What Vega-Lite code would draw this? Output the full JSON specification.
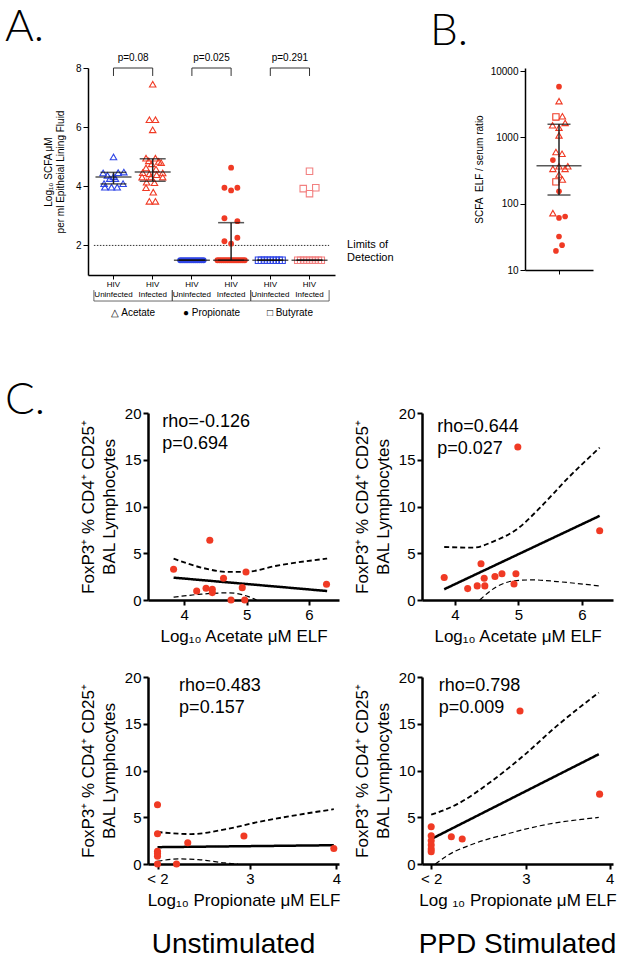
{
"$schema": "https://vega.github.io/schema/vega-lite/v6.json",
"padding": {"left": 5, "top": 6, "right": 5, "bottom": 5},
"background": "white",
"config": {
 "view": {"stroke": null},
 "font": "Liberation Sans",
 "axis": {"domainColor":"black","tickColor":"black","labelColor":"black","titleColor":"black","grid":false,"labelFont":"Liberation Sans","titleFont":"Liberation Sans","titleFontWeight":"normal","labelFlush":false,"labelOverlap":false},
 "title": {"color":"black"},
 "text": {"font":"Liberation Sans","color":"black"}
},
"datasets": {
 "aPoints": [
  {"g":"A_U","s":"Acetate","v":4.99,"j":0},
  {"g":"A_U","s":"Acetate","v":4.45,"j":-0.53},
  {"g":"A_U","s":"Acetate","v":4.46,"j":0.24},
  {"g":"A_U","s":"Acetate","v":4.48,"j":0.53},
  {"g":"A_U","s":"Acetate","v":4.37,"j":-0.31},
  {"g":"A_U","s":"Acetate","v":4.33,"j":0},
  {"g":"A_U","s":"Acetate","v":4.26,"j":-0.19},
  {"g":"A_U","s":"Acetate","v":4.26,"j":0.1},
  {"g":"A_U","s":"Acetate","v":4.09,"j":-0.48},
  {"g":"A_U","s":"Acetate","v":4.09,"j":0.49},
  {"g":"A_U","s":"Acetate","v":3.97,"j":-0.44},
  {"g":"A_U","s":"Acetate","v":3.97,"j":-0.1},
  {"g":"A_U","s":"Acetate","v":3.97,"j":0.19},
  {"g":"A_I","s":"Acetate","v":7.45,"j":0},
  {"g":"A_I","s":"Acetate","v":6.25,"j":-0.17},
  {"g":"A_I","s":"Acetate","v":6.25,"j":0.14},
  {"g":"A_I","s":"Acetate","v":5.91,"j":0},
  {"g":"A_I","s":"Acetate","v":4.95,"j":-0.34},
  {"g":"A_I","s":"Acetate","v":4.95,"j":0.14},
  {"g":"A_I","s":"Acetate","v":4.86,"j":-0.2},
  {"g":"A_I","s":"Acetate","v":4.84,"j":0.31},
  {"g":"A_I","s":"Acetate","v":4.76,"j":-0.05},
  {"g":"A_I","s":"Acetate","v":4.8,"j":0.43},
  {"g":"A_I","s":"Acetate","v":4.62,"j":-0.34},
  {"g":"A_I","s":"Acetate","v":4.58,"j":0.17},
  {"g":"A_I","s":"Acetate","v":4.46,"j":-0.51},
  {"g":"A_I","s":"Acetate","v":4.42,"j":-0.17},
  {"g":"A_I","s":"Acetate","v":4.39,"j":0.2},
  {"g":"A_I","s":"Acetate","v":4.45,"j":0.51},
  {"g":"A_I","s":"Acetate","v":4.31,"j":-0.54},
  {"g":"A_I","s":"Acetate","v":4.31,"j":-0.09},
  {"g":"A_I","s":"Acetate","v":4.31,"j":0.51},
  {"g":"A_I","s":"Acetate","v":4.14,"j":-0.31},
  {"g":"A_I","s":"Acetate","v":4.12,"j":0.09},
  {"g":"A_I","s":"Acetate","v":3.95,"j":-0.34},
  {"g":"A_I","s":"Acetate","v":3.8,"j":0.03},
  {"g":"A_I","s":"Acetate","v":3.49,"j":-0.17},
  {"g":"A_I","s":"Acetate","v":3.49,"j":0.14},
  {"g":"P_U","s":"Propionate","v":1.5,"j":-0.6},
  {"g":"P_U","s":"Propionate","v":1.5,"j":-0.5},
  {"g":"P_U","s":"Propionate","v":1.5,"j":-0.4},
  {"g":"P_U","s":"Propionate","v":1.5,"j":-0.3},
  {"g":"P_U","s":"Propionate","v":1.5,"j":-0.2},
  {"g":"P_U","s":"Propionate","v":1.5,"j":-0.1},
  {"g":"P_U","s":"Propionate","v":1.5,"j":0},
  {"g":"P_U","s":"Propionate","v":1.5,"j":0.1},
  {"g":"P_U","s":"Propionate","v":1.5,"j":0.2},
  {"g":"P_U","s":"Propionate","v":1.5,"j":0.3},
  {"g":"P_U","s":"Propionate","v":1.5,"j":0.4},
  {"g":"P_U","s":"Propionate","v":1.5,"j":0.5},
  {"g":"P_U","s":"Propionate","v":1.5,"j":0.6},
  {"g":"P_I","s":"Propionate","v":4.63,"j":0},
  {"g":"P_I","s":"Propionate","v":3.95,"j":-0.34},
  {"g":"P_I","s":"Propionate","v":3.86,"j":0},
  {"g":"P_I","s":"Propionate","v":3.95,"j":0.32},
  {"g":"P_I","s":"Propionate","v":2.92,"j":-0.34},
  {"g":"P_I","s":"Propionate","v":2.82,"j":0.32},
  {"g":"P_I","s":"Propionate","v":2.26,"j":0.32},
  {"g":"P_I","s":"Propionate","v":2.14,"j":-0.34},
  {"g":"P_I","s":"Propionate","v":2.06,"j":0},
  {"g":"P_I","s":"Propionate","v":1.5,"j":-0.7},
  {"g":"P_I","s":"Propionate","v":1.5,"j":-0.6},
  {"g":"P_I","s":"Propionate","v":1.5,"j":-0.5},
  {"g":"P_I","s":"Propionate","v":1.5,"j":-0.4},
  {"g":"P_I","s":"Propionate","v":1.5,"j":-0.3},
  {"g":"P_I","s":"Propionate","v":1.5,"j":-0.2},
  {"g":"P_I","s":"Propionate","v":1.5,"j":-0.1},
  {"g":"P_I","s":"Propionate","v":1.5,"j":0},
  {"g":"P_I","s":"Propionate","v":1.5,"j":0.1},
  {"g":"P_I","s":"Propionate","v":1.5,"j":0.2},
  {"g":"P_I","s":"Propionate","v":1.5,"j":0.3},
  {"g":"P_I","s":"Propionate","v":1.5,"j":0.4},
  {"g":"P_I","s":"Propionate","v":1.5,"j":0.5},
  {"g":"P_I","s":"Propionate","v":1.5,"j":0.6},
  {"g":"P_I","s":"Propionate","v":1.5,"j":0.7},
  {"g":"B_U","s":"Butyrate","v":1.5,"j":-0.6},
  {"g":"B_U","s":"Butyrate","v":1.5,"j":-0.45},
  {"g":"B_U","s":"Butyrate","v":1.5,"j":-0.3},
  {"g":"B_U","s":"Butyrate","v":1.5,"j":-0.15},
  {"g":"B_U","s":"Butyrate","v":1.5,"j":0},
  {"g":"B_U","s":"Butyrate","v":1.5,"j":0.15},
  {"g":"B_U","s":"Butyrate","v":1.5,"j":0.3},
  {"g":"B_U","s":"Butyrate","v":1.5,"j":0.45},
  {"g":"B_U","s":"Butyrate","v":1.5,"j":0.6},
  {"g":"B_I","s":"Butyrate","v":4.51,"j":0},
  {"g":"B_I","s":"Butyrate","v":3.92,"j":-0.32},
  {"g":"B_I","s":"Butyrate","v":3.95,"j":0.32},
  {"g":"B_I","s":"Butyrate","v":3.75,"j":0},
  {"g":"B_I","s":"Butyrate","v":1.5,"j":-0.6},
  {"g":"B_I","s":"Butyrate","v":1.5,"j":-0.45},
  {"g":"B_I","s":"Butyrate","v":1.5,"j":-0.3},
  {"g":"B_I","s":"Butyrate","v":1.5,"j":-0.15},
  {"g":"B_I","s":"Butyrate","v":1.5,"j":0},
  {"g":"B_I","s":"Butyrate","v":1.5,"j":0.15},
  {"g":"B_I","s":"Butyrate","v":1.5,"j":0.3},
  {"g":"B_I","s":"Butyrate","v":1.5,"j":0.45},
  {"g":"B_I","s":"Butyrate","v":1.5,"j":0.6}
 ],
 "aSummary": [
  {"g":"A_U","med":4.31,"q1":4.08,"q3":4.47},
  {"g":"A_I","med":4.48,"q1":4.17,"q3":4.93},
  {"g":"P_U","med":1.5,"q1":1.5,"q3":1.5},
  {"g":"P_I","med":1.5,"q1":1.5,"q3":2.77},
  {"g":"B_U","med":1.5,"q1":1.5,"q3":1.5},
  {"g":"B_I","med":1.5,"q1":1.5,"q3":1.5}
 ],
 "aPairs": [
  {"u":"A_U","i":"A_I","p":"p=0.08","lab":"△ Acetate"},
  {"u":"P_U","i":"P_I","p":"p=0.025","lab":"● Propionate"},
  {"u":"B_U","i":"B_I","p":"p=0.291","lab":"□ Butyrate"}
 ],
 "bPoints": [
  {"s":"Propionate","v":5800,"j":0},
  {"s":"Acetate","v":3510,"j":0},
  {"s":"Butyrate","v":2030,"j":-0.09},
  {"s":"Acetate","v":2080,"j":0.1},
  {"s":"Acetate","v":1520,"j":-0.19},
  {"s":"Acetate","v":1650,"j":0.18},
  {"s":"Acetate","v":1400,"j":0},
  {"s":"Acetate","v":1070,"j":0},
  {"s":"Acetate","v":600,"j":-0.09},
  {"s":"Acetate","v":566,"j":0.09},
  {"s":"Propionate","v":454,"j":-0.18},
  {"s":"Acetate","v":335,"j":-0.18},
  {"s":"Acetate","v":366,"j":0},
  {"s":"Acetate","v":335,"j":0.18},
  {"s":"Acetate","v":366,"j":0.26},
  {"s":"Acetate","v":275,"j":0},
  {"s":"Acetate","v":231,"j":0.1},
  {"s":"Butyrate","v":213,"j":-0.09},
  {"s":"Propionate","v":154,"j":0},
  {"s":"Acetate","v":72,"j":-0.18},
  {"s":"Propionate","v":61,"j":0},
  {"s":"Propionate","v":64,"j":0.18},
  {"s":"Propionate","v":32,"j":0},
  {"s":"Propionate","v":23.7,"j":0.09},
  {"s":"Propionate","v":19.4,"j":-0.09}
 ],
 "bSummary": [{"med":373,"q1":135,"q3":1574}],
 "cPoints": [
  {"p":"C1","x":3.83,"y":3.29},{"p":"C1","x":4.2,"y":0.96},{"p":"C1","x":4.35,"y":1.25},{"p":"C1","x":4.41,"y":6.39},
  {"p":"C1","x":4.45,"y":1.14},{"p":"C1","x":4.45,"y":0.79},{"p":"C1","x":4.63,"y":2.32},{"p":"C1","x":4.75,"y":0},
  {"p":"C1","x":4.93,"y":1.32},{"p":"C1","x":4.97,"y":0},{"p":"C1","x":4.99,"y":3.0},{"p":"C1","x":6.28,"y":1.68},
  {"p":"C2","x":3.83,"y":2.41},{"p":"C2","x":4.2,"y":1.22},{"p":"C2","x":4.35,"y":1.51},{"p":"C2","x":4.41,"y":3.88},
  {"p":"C2","x":4.46,"y":2.33},{"p":"C2","x":4.47,"y":1.51},{"p":"C2","x":4.63,"y":2.51},{"p":"C2","x":4.74,"y":2.8},
  {"p":"C2","x":4.93,"y":1.72},{"p":"C2","x":4.96,"y":2.8},{"p":"C2","x":4.99,"y":16.37},{"p":"C2","x":6.28,"y":7.4},
  {"p":"C3","x":1.93,"y":6.33},{"p":"C3","x":1.93,"y":3.24},{"p":"C3","x":1.93,"y":1.37},{"p":"C3","x":1.93,"y":1.12},
  {"p":"C3","x":1.93,"y":0.83},{"p":"C3","x":1.93,"y":0},{"p":"C3","x":2.15,"y":0},{"p":"C3","x":2.28,"y":2.27},
  {"p":"C3","x":2.93,"y":2.99},{"p":"C3","x":3.97,"y":1.65},
  {"p":"C4","x":1.87,"y":3.99},{"p":"C4","x":1.87,"y":3.02},{"p":"C4","x":1.87,"y":2.49},{"p":"C4","x":1.87,"y":2.03},
  {"p":"C4","x":1.87,"y":1.6},{"p":"C4","x":1.87,"y":1.32},{"p":"C4","x":2.11,"y":2.92},{"p":"C4","x":2.24,"y":2.67},
  {"p":"C4","x":2.93,"y":16.37},{"p":"C4","x":3.88,"y":7.47}
 ],
 "cLines": [
  {"p":"C1","k":"fit","x":3.83,"y":2.39},{"p":"C1","k":"fit","x":6.29,"y":0.96},
  {"p":"C1","k":"upper","x":3.83,"y":4.43},{"p":"C1","k":"upper","x":4.28,"y":3.46},{"p":"C1","k":"upper","x":4.71,"y":3.0},
  {"p":"C1","k":"upper","x":5.03,"y":3.04},{"p":"C1","k":"upper","x":5.46,"y":3.64},{"p":"C1","k":"upper","x":6.29,"y":4.43},
  {"p":"C1","k":"lower","x":3.83,"y":0.3},{"p":"C1","k":"lower","x":4.28,"y":0.63},{"p":"C1","k":"lower","x":4.71,"y":0.77},
  {"p":"C1","k":"lower","x":5.03,"y":0.36},{"p":"C1","k":"lower","x":5.16,"y":0},
  {"p":"C2","k":"fit","x":3.83,"y":1.15},{"p":"C2","k":"fit","x":6.28,"y":9.0},
  {"p":"C2","k":"upper","x":3.83,"y":5.67},{"p":"C2","k":"upper","x":4.29,"y":5.6},{"p":"C2","k":"upper","x":4.61,"y":6.28},
  {"p":"C2","k":"upper","x":4.97,"y":7.54},{"p":"C2","k":"upper","x":5.34,"y":9.87},{"p":"C2","k":"upper","x":5.76,"y":12.9},
  {"p":"C2","k":"upper","x":6.28,"y":16.3},
  {"p":"C2","k":"lower","x":4.39,"y":0},{"p":"C2","k":"lower","x":4.66,"y":1.44},{"p":"C2","k":"lower","x":4.97,"y":2.08},
  {"p":"C2","k":"lower","x":5.24,"y":2.15},{"p":"C2","k":"lower","x":5.61,"y":1.97},{"p":"C2","k":"lower","x":6.28,"y":1.5},
  {"p":"C3","k":"fit","x":1.93,"y":1.8},{"p":"C3","k":"fit","x":3.97,"y":2.01},
  {"p":"C3","k":"upper","x":1.93,"y":3.42},{"p":"C3","k":"upper","x":2.32,"y":3.2},{"p":"C3","k":"upper","x":2.71,"y":3.7},
  {"p":"C3","k":"upper","x":3.1,"y":4.5},{"p":"C3","k":"upper","x":3.48,"y":5.14},{"p":"C3","k":"upper","x":3.97,"y":5.86},
  {"p":"C3","k":"lower","x":1.93,"y":0.29},{"p":"C3","k":"lower","x":2.17,"y":0.54},{"p":"C3","k":"lower","x":2.4,"y":0.47},
  {"p":"C3","k":"lower","x":2.71,"y":0.11},{"p":"C3","k":"lower","x":2.86,"y":0},
  {"p":"C4","k":"fit","x":1.87,"y":2.67},{"p":"C4","k":"fit","x":3.87,"y":11.74},
  {"p":"C4","k":"upper","x":1.87,"y":5.27},{"p":"C4","k":"upper","x":2.18,"y":6.4},{"p":"C4","k":"upper","x":2.57,"y":8.72},
  {"p":"C4","k":"upper","x":2.97,"y":11.57},{"p":"C4","k":"upper","x":3.37,"y":14.77},{"p":"C4","k":"upper","x":3.87,"y":18.33},
  {"p":"C4","k":"lower","x":1.92,"y":0},{"p":"C4","k":"lower","x":2.06,"y":0.89},{"p":"C4","k":"lower","x":2.37,"y":2.14},
  {"p":"C4","k":"lower","x":2.77,"y":3.2},{"p":"C4","k":"lower","x":3.17,"y":4.09},{"p":"C4","k":"lower","x":3.87,"y":4.98}
 ]
},
"columns": 2,
"spacing": {"row": 77, "column": 83},
"bounds": "flush",
"concat": [
  {"width": 187, "height": 207,
   "title": {"text":"A.","anchor":"start","frame":"group","orient":"top","dx":-143,"offset":-32,"fontSize":44,"font":"Lato","fontWeight":300,"baseline":"alphabetic"},
   "layer": [
    {"data":{"values":[{}]},"mark":{"type":"rule","strokeDash":[1.5,1.5],"color":"#333","strokeWidth":1},
     "encoding":{"x":{"datum":"A_U","type":"nominal","bandPosition":0,"scale":{"domain":["A_U","A_I","P_U","P_I","B_U","B_I"],"range":[-60,187],"paddingInner":0,"paddingOuter":0.15}},
      "x2":{"datum":"B_I","bandPosition":1},
      "y":{"datum":2,"type":"quantitative","scale":{"domain":[1,8],"nice":false,"zero":false}}}},
    {"data":{"name":"aPairs"},"mark":{"type":"rule","color":"#444","strokeWidth":0.8},
     "encoding":{"x":{"field":"u","type":"nominal","bandPosition":0,"scale":{"domain":["A_U","A_I","P_U","P_I","B_U","B_I"],"range":[-60,187],"paddingInner":0,"paddingOuter":0.15}},
      "y":{"datum":0.49,"type":"quantitative","scale":{"domain":[1,8],"nice":false,"zero":false}},"y2":{"datum":0.12}}},
    {"data":{"name":"aPairs"},"mark":{"type":"rule","color":"#444","strokeWidth":0.8},
     "encoding":{"x":{"field":"i","type":"nominal","bandPosition":1,"scale":{"domain":["A_U","A_I","P_U","P_I","B_U","B_I"],"range":[-60,187],"paddingInner":0,"paddingOuter":0.15}},
      "y":{"datum":0.49,"type":"quantitative","scale":{"domain":[1,8],"nice":false,"zero":false}},"y2":{"datum":0.12}}},
    {"data":{"name":"aPairs"},"mark":{"type":"rule","color":"#444","strokeWidth":0.8},
     "encoding":{"x":{"field":"u","type":"nominal","bandPosition":0,"scale":{"domain":["A_U","A_I","P_U","P_I","B_U","B_I"],"range":[-60,187],"paddingInner":0,"paddingOuter":0.15}},
      "x2":{"field":"i","bandPosition":1},
      "y":{"datum":0.12,"type":"quantitative","scale":{"domain":[1,8],"nice":false,"zero":false}}}},
    {"data":{"name":"aPairs"},"mark":{"type":"text","fontSize":10,"baseline":"alphabetic","align":"center"},
     "encoding":{"x":{"field":"u","type":"nominal","bandPosition":1,"scale":{"domain":["A_U","A_I","P_U","P_I","B_U","B_I"],"range":[-60,187],"paddingInner":0,"paddingOuter":0.15}},
      "y":{"datum":-0.38,"type":"quantitative","scale":{"domain":[1,8],"nice":false,"zero":false}},"text":{"field":"lab"}}},
    {"data":{"name":"aPairs"},"mark":{"type":"rule","color":"#333","strokeWidth":1},
     "encoding":{"x":{"field":"u","type":"nominal","bandPosition":0.5,"scale":{"domain":["A_U","A_I","P_U","P_I","B_U","B_I"],"range":[-60,187],"paddingInner":0,"paddingOuter":0.15}},
      "x2":{"field":"i","bandPosition":0.5},
      "y":{"datum":8,"type":"quantitative","scale":{"domain":[1,8],"nice":false,"zero":false}}}},
    {"data":{"name":"aPairs"},"mark":{"type":"rule","color":"#333","strokeWidth":1},
     "encoding":{"x":{"field":"u","type":"nominal","bandPosition":0.5,"scale":{"domain":["A_U","A_I","P_U","P_I","B_U","B_I"],"range":[-60,187],"paddingInner":0,"paddingOuter":0.15}},
      "y":{"datum":8,"type":"quantitative","scale":{"domain":[1,8],"nice":false,"zero":false}},"y2":{"datum":7.73}}},
    {"data":{"name":"aPairs"},"mark":{"type":"rule","color":"#333","strokeWidth":1},
     "encoding":{"x":{"field":"i","type":"nominal","bandPosition":0.5,"scale":{"domain":["A_U","A_I","P_U","P_I","B_U","B_I"],"range":[-60,187],"paddingInner":0,"paddingOuter":0.15}},
      "y":{"datum":8,"type":"quantitative","scale":{"domain":[1,8],"nice":false,"zero":false}},"y2":{"datum":7.73}}},
    {"data":{"name":"aPairs"},"mark":{"type":"text","fontSize":10,"baseline":"alphabetic","align":"center"},
     "encoding":{"x":{"field":"u","type":"nominal","bandPosition":1,"scale":{"domain":["A_U","A_I","P_U","P_I","B_U","B_I"],"range":[-60,187],"paddingInner":0,"paddingOuter":0.15}},
      "y":{"datum":8.22,"type":"quantitative","scale":{"domain":[1,8],"nice":false,"zero":false}},"text":{"field":"p"}}},
    {"data":{"values":[{}]},"mark":{"type":"text","fontSize":11,"baseline":"middle","align":"left","dx":18,"lineHeight":13,"text":["Limits of","Detection"]},
     "encoding":{"x":{"datum":"B_I","type":"nominal","bandPosition":1,"scale":{"domain":["A_U","A_I","P_U","P_I","B_U","B_I"],"range":[-60,187],"paddingInner":0,"paddingOuter":0.15}},
      "y":{"datum":2,"type":"quantitative","scale":{"domain":[1,8],"nice":false,"zero":false}}}},
    {"data":{"name":"aPoints"},"transform":[{"filter":"datum.s != 'Propionate'"}],
     "mark":{"type":"point","filled":false,"strokeWidth":1.1,"size":42,"opacity":1},
     "encoding":{
      "x":{"field":"g","type":"nominal","scale":{"domain":["A_U","A_I","P_U","P_I","B_U","B_I"],"range":[-60,187],"paddingInner":0,"paddingOuter":0.15},
       "axis":{"title":null,"labelExpr":"['HIV', (datum.value == 'A_U' || datum.value == 'P_U' || datum.value == 'B_U') ? 'Uninfected' : 'Infected']","labelFontSize":8,"labelLineHeight":10,"labelAngle":0,"labelAlign":"center","labelBaseline":"top","tickSize":4,"labelPadding":1,"domainWidth":1.5,"tickWidth":1}},
      "xOffset":{"field":"j","type":"quantitative","scale":{"domain":[-1,1],"range":[0,39.2]}},
      "y":{"field":"v","type":"quantitative","scale":{"domain":[1,8],"nice":false,"zero":false},
       "axis":{"values":[2,4,6,8],"offset":60,"title":["Log₁₀ SCFA μM","per ml Epitheial Lining Fluid"],"titleFontSize":10,"titleLineHeight":12,"labelFontSize":10,"tickSize":5,"domainWidth":1.5,"labelPadding":2,"titlePadding":10}},
      "color":{"field":"g","type":"nominal","scale":{"domain":["A_U","A_I","P_U","P_I","B_U","B_I"],"range":["#2f45e6","#f03a24","#2f45e6","#f03a24","#2f45e6","#f28080"]},"legend":null},
      "shape":{"field":"s","type":"nominal","scale":{"domain":["Acetate","Propionate","Butyrate"],"range":["triangle-up","circle","square"]},"legend":null}
     }},
    {"data":{"name":"aPoints"},"transform":[{"filter":"datum.s == 'Propionate'"}],
     "mark":{"type":"point","filled":true,"size":34,"opacity":1},
     "encoding":{
      "x":{"field":"g","type":"nominal","scale":{"domain":["A_U","A_I","P_U","P_I","B_U","B_I"],"range":[-60,187],"paddingInner":0,"paddingOuter":0.15}},
      "xOffset":{"field":"j","type":"quantitative","scale":{"domain":[-1,1],"range":[0,39.2]}},
      "y":{"field":"v","type":"quantitative","scale":{"domain":[1,8],"nice":false,"zero":false}},
      "color":{"field":"g","type":"nominal","scale":{"domain":["A_U","A_I","P_U","P_I","B_U","B_I"],"range":["#2f45e6","#f03a24","#2f45e6","#f03a24","#2f45e6","#f28080"]},"legend":null},
      "shape":{"field":"s","type":"nominal","scale":{"domain":["Acetate","Propionate","Butyrate"],"range":["triangle-up","circle","square"]},"legend":null}
     }},
    {"data":{"name":"aSummary"},"mark":{"type":"rule","color":"#222","strokeWidth":1.5},
     "encoding":{"x":{"field":"g","type":"nominal","scale":{"domain":["A_U","A_I","P_U","P_I","B_U","B_I"],"range":[-60,187],"paddingInner":0,"paddingOuter":0.15}},
      "y":{"field":"q1","type":"quantitative","scale":{"domain":[1,8],"nice":false,"zero":false}},"y2":{"field":"q3"}}},
    {"data":{"name":"aSummary"},"mark":{"type":"tick","color":"#111","size":36,"thickness":1.5,"orient":"horizontal"},
     "encoding":{"x":{"field":"g","type":"nominal","scale":{"domain":["A_U","A_I","P_U","P_I","B_U","B_I"],"range":[-60,187],"paddingInner":0,"paddingOuter":0.15}},
      "y":{"field":"med","type":"quantitative","scale":{"domain":[1,8],"nice":false,"zero":false}}}},
    {"data":{"name":"aSummary"},"mark":{"type":"tick","color":"#111","size":26,"thickness":1.5,"orient":"horizontal"},
     "encoding":{"x":{"field":"g","type":"nominal","scale":{"domain":["A_U","A_I","P_U","P_I","B_U","B_I"],"range":[-60,187],"paddingInner":0,"paddingOuter":0.15}},
      "y":{"field":"q1","type":"quantitative","scale":{"domain":[1,8],"nice":false,"zero":false}}}},
    {"data":{"name":"aSummary"},"mark":{"type":"tick","color":"#111","size":26,"thickness":1.5,"orient":"horizontal"},
     "encoding":{"x":{"field":"g","type":"nominal","scale":{"domain":["A_U","A_I","P_U","P_I","B_U","B_I"],"range":[-60,187],"paddingInner":0,"paddingOuter":0.15}},
      "y":{"field":"q3","type":"quantitative","scale":{"domain":[1,8],"nice":false,"zero":false}}}}
   ]},
  {"width": 171, "height": 202,
   "title": {"text":"B.","anchor":"start","frame":"group","orient":"top","dx":8,"offset":-23,"fontSize":44,"font":"Lato","fontWeight":300,"baseline":"alphabetic"},
   "layer": [
    {"data":{"name":"bPoints"},"transform":[{"filter":"datum.s != 'Propionate'"}],
     "mark":{"type":"point","filled":false,"strokeWidth":1.1,"size":40,"opacity":1,"color":"#f03a24"},
     "encoding":{
      "x":{"field":"j","type":"quantitative","scale":{"domain":[-1,1],"range":[103,171],"nice":false,"zero":false},"axis":{"values":[0],"labels":false,"title":null,"tickSize":4,"domainWidth":1.5}},
      "y":{"field":"v","type":"quantitative","scale":{"type":"log","domain":[10,11100],"nice":false},
       "axis":{"values":[10,100,1000,10000],"offset":-103,"format":"d","title":"SCFA\u00a0 ELF / serum ratio","titleFontSize":10,"labelFontSize":10,"tickSize":5,"domainWidth":1.5,"labelPadding":2,"titlePadding":6}},
      "shape":{"field":"s","type":"nominal","scale":{"domain":["Acetate","Propionate","Butyrate"],"range":["triangle-up","circle","square"]},"legend":null}
     }},
    {"data":{"name":"bPoints"},"transform":[{"filter":"datum.s == 'Propionate'"}],
     "mark":{"type":"point","filled":true,"size":32,"opacity":1,"color":"#f03a24"},
     "encoding":{
      "x":{"field":"j","type":"quantitative","scale":{"domain":[-1,1],"range":[103,171],"nice":false,"zero":false}},
      "y":{"field":"v","type":"quantitative","scale":{"type":"log","domain":[10,11100],"nice":false}},
      "shape":{"field":"s","type":"nominal","scale":{"domain":["Acetate","Propionate","Butyrate"],"range":["triangle-up","circle","square"]},"legend":null}
     }},
    {"data":{"name":"bSummary"},"mark":{"type":"rule","color":"#222","strokeWidth":1.5},
     "encoding":{"x":{"datum":0,"type":"quantitative","scale":{"domain":[-1,1],"range":[103,171],"nice":false,"zero":false}},
      "y":{"field":"q1","type":"quantitative","scale":{"type":"log","domain":[10,11100],"nice":false}},"y2":{"field":"q3"}}},
    {"data":{"name":"bSummary"},"mark":{"type":"tick","color":"#111","size":45,"thickness":1.5,"orient":"horizontal"},
     "encoding":{"x":{"datum":0,"type":"quantitative","scale":{"domain":[-1,1],"range":[103,171],"nice":false,"zero":false}},
      "y":{"field":"med","type":"quantitative","scale":{"type":"log","domain":[10,11100],"nice":false}}}},
    {"data":{"name":"bSummary"},"mark":{"type":"tick","color":"#111","size":23,"thickness":1.5,"orient":"horizontal"},
     "encoding":{"x":{"datum":0,"type":"quantitative","scale":{"domain":[-1,1],"range":[103,171],"nice":false,"zero":false}},
      "y":{"field":"q1","type":"quantitative","scale":{"type":"log","domain":[10,11100],"nice":false}}}},
    {"data":{"name":"bSummary"},"mark":{"type":"tick","color":"#111","size":23,"thickness":1.5,"orient":"horizontal"},
     "encoding":{"x":{"datum":0,"type":"quantitative","scale":{"domain":[-1,1],"range":[103,171],"nice":false,"zero":false}},
      "y":{"field":"q3","type":"quantitative","scale":{"type":"log","domain":[10,11100],"nice":false}}}}
   ]},
  {"width": 191, "height": 248,
   "title": {"text":"C.","anchor":"start","frame":"group","orient":"top","dx":-143,"offset":-106,"fontSize":44,"font":"Lato","fontWeight":300,"baseline":"alphabetic"},
   "layer": [
    {"data":{"name":"cLines"},"transform":[{"filter":"datum.p == 'C1'"}],"mark":{"type":"line","color":"black","interpolate":"monotone"},
     "encoding":{
      "x":{"field":"x","type":"quantitative","scale":{"domain":[3.42,6.48],"nice":false,"zero":false},
       "axis":{"values":[4,5,6],"format":"d","title":"Log₁₀ Acetate μM ELF","titleFontSize":17,"labelFontSize":15,"domainWidth":2.5,"tickWidth":2,"tickSize":5,"labelPadding":2,"titlePadding":6}},
      "y":{"field":"y","type":"quantitative","scale":{"domain":[0,20],"range":[248,61],"nice":false},
       "axis":{"values":[0,5,10,15,20],"title":["FoxP3⁺ % CD4⁺ CD25⁺","BAL Lymphocytes"],"titleFontSize":17,"titleLineHeight":21,"labelFontSize":15,"domainWidth":2.5,"tickWidth":2,"tickSize":5,"labelPadding":2,"titlePadding":6}},
      "detail":{"field":"k"},
      "strokeDash":{"field":"k","type":"nominal","scale":{"domain":["fit","upper","lower"],"range":[[1,0],[5,3],[5,3]]},"legend":null},
      "strokeWidth":{"field":"k","type":"ordinal","scale":{"domain":["fit","upper","lower"],"range":[2.5,1.2,1.2]},"legend":null}
     }},
    {"data":{"name":"cPoints"},"transform":[{"filter":"datum.p == 'C1'"}],"mark":{"type":"circle","color":"#f03a24","size":50,"opacity":1},
     "encoding":{"x":{"field":"x","type":"quantitative","scale":{"domain":[3.42,6.48],"nice":false,"zero":false}},
      "y":{"field":"y","type":"quantitative","scale":{"domain":[0,20],"range":[248,61],"nice":false}}}},
    {"data":{"values":[{}]},"mark":{"type":"text","text":["rho=-0.126","p=0.694"],"align":"left","baseline":"top","fontSize":18,"lineHeight":22},
     "encoding":{"x":{"datum":3.65,"type":"quantitative","scale":{"domain":[3.42,6.48],"nice":false,"zero":false}},
      "y":{"datum":20,"type":"quantitative","scale":{"domain":[0,20],"range":[248,61],"nice":false}}}}
   ]},
  {"width": 191, "height": 248,
   "layer": [
    {"data":{"name":"cLines"},"transform":[{"filter":"datum.p == 'C2'"}],"mark":{"type":"line","color":"black","interpolate":"monotone"},
     "encoding":{
      "x":{"field":"x","type":"quantitative","scale":{"domain":[3.48,6.49],"nice":false,"zero":false},
       "axis":{"values":[4,5,6],"format":"d","title":"Log₁₀ Acetate μM ELF","titleFontSize":17,"labelFontSize":15,"domainWidth":2.5,"tickWidth":2,"tickSize":5,"labelPadding":2,"titlePadding":6}},
      "y":{"field":"y","type":"quantitative","scale":{"domain":[0,20],"range":[248,61],"nice":false},
       "axis":{"values":[0,5,10,15,20],"title":["FoxP3⁺ % CD4⁺ CD25⁺","BAL Lymphocytes"],"titleFontSize":17,"titleLineHeight":21,"labelFontSize":15,"domainWidth":2.5,"tickWidth":2,"tickSize":5,"labelPadding":2,"titlePadding":6}},
      "detail":{"field":"k"},
      "strokeDash":{"field":"k","type":"nominal","scale":{"domain":["fit","upper","lower"],"range":[[1,0],[5,3],[5,3]]},"legend":null},
      "strokeWidth":{"field":"k","type":"ordinal","scale":{"domain":["fit","upper","lower"],"range":[2.5,1.2,1.2]},"legend":null}
     }},
    {"data":{"name":"cPoints"},"transform":[{"filter":"datum.p == 'C2'"}],"mark":{"type":"circle","color":"#f03a24","size":50,"opacity":1},
     "encoding":{"x":{"field":"x","type":"quantitative","scale":{"domain":[3.48,6.49],"nice":false,"zero":false}},
      "y":{"field":"y","type":"quantitative","scale":{"domain":[0,20],"range":[248,61],"nice":false}}}},
    {"data":{"values":[{}]},"mark":{"type":"text","text":["rho=0.644","p=0.027"],"align":"left","baseline":"top","fontSize":18,"lineHeight":22},
     "encoding":{"x":{"datum":3.72,"type":"quantitative","scale":{"domain":[3.48,6.49],"nice":false,"zero":false}},
      "y":{"datum":19.5,"type":"quantitative","scale":{"domain":[0,20],"range":[248,61],"nice":false}}}}
   ]},
  {"width": 191, "height": 187,
   "title": {"text":"Unstimulated","anchor":"middle","frame":"group","orient":"bottom","dx":-10,"offset":45,"fontSize":28,"font":"Liberation Sans","fontWeight":"normal","baseline":"alphabetic"},
   "layer": [
    {"data":{"name":"cLines"},"transform":[{"filter":"datum.p == 'C3'"}],"mark":{"type":"line","color":"black","interpolate":"monotone"},
     "encoding":{
      "x":{"field":"x","type":"quantitative","scale":{"domain":[1.82,4.03],"nice":false,"zero":false},
       "axis":{"values":[1.93,3,4],"labelExpr":"datum.value < 2 ? '< 2' : format(datum.value, 'd')","title":"Log₁₀ Propionate μM ELF","titleFontSize":17,"labelFontSize":15,"domainWidth":2.5,"tickWidth":2,"tickSize":5,"labelPadding":2,"titlePadding":6}},
      "y":{"field":"y","type":"quantitative","scale":{"domain":[0,20],"nice":false},
       "axis":{"values":[0,5,10,15,20],"title":["FoxP3⁺ % CD4⁺ CD25⁺","BAL Lymphocytes"],"titleFontSize":17,"titleLineHeight":21,"labelFontSize":15,"domainWidth":2.5,"tickWidth":2,"tickSize":5,"labelPadding":2,"titlePadding":6}},
      "detail":{"field":"k"},
      "strokeDash":{"field":"k","type":"nominal","scale":{"domain":["fit","upper","lower"],"range":[[1,0],[5,3],[5,3]]},"legend":null},
      "strokeWidth":{"field":"k","type":"ordinal","scale":{"domain":["fit","upper","lower"],"range":[2.5,1.2,1.2]},"legend":null}
     }},
    {"data":{"name":"cPoints"},"transform":[{"filter":"datum.p == 'C3'"}],"mark":{"type":"circle","color":"#f03a24","size":50,"opacity":1},
     "encoding":{"x":{"field":"x","type":"quantitative","scale":{"domain":[1.82,4.03],"nice":false,"zero":false}},
      "y":{"field":"y","type":"quantitative","scale":{"domain":[0,20],"nice":false}}}},
    {"data":{"values":[{}]},"mark":{"type":"text","text":["rho=0.483","p=0.157"],"align":"left","baseline":"top","fontSize":18,"lineHeight":22},
     "encoding":{"x":{"datum":2.18,"type":"quantitative","scale":{"domain":[1.82,4.03],"nice":false,"zero":false}},
      "y":{"datum":20,"type":"quantitative","scale":{"domain":[0,20],"nice":false}}}}
   ]},
  {"width": 191, "height": 187,
   "title": {"text":"PPD Stimulated","anchor":"middle","frame":"group","orient":"bottom","offset":45,"fontSize":28,"font":"Liberation Sans","fontWeight":"normal","baseline":"alphabetic"},
   "layer": [
    {"data":{"name":"cLines"},"transform":[{"filter":"datum.p == 'C4'"}],"mark":{"type":"line","color":"black","interpolate":"monotone"},
     "encoding":{
      "x":{"field":"x","type":"quantitative","scale":{"domain":[1.76,4.04],"nice":false,"zero":false},
       "axis":{"values":[1.87,3,4],"labelExpr":"datum.value < 2 ? '< 2' : format(datum.value, 'd')","title":"Log ₁₀ Propionate μM ELF","titleFontSize":17,"labelFontSize":15,"domainWidth":2.5,"tickWidth":2,"tickSize":5,"labelPadding":2,"titlePadding":6}},
      "y":{"field":"y","type":"quantitative","scale":{"domain":[0,20],"nice":false},
       "axis":{"values":[0,5,10,15,20],"title":["FoxP3⁺ % CD4⁺ CD25⁺","BAL Lymphocytes"],"titleFontSize":17,"titleLineHeight":21,"labelFontSize":15,"domainWidth":2.5,"tickWidth":2,"tickSize":5,"labelPadding":2,"titlePadding":6}},
      "detail":{"field":"k"},
      "strokeDash":{"field":"k","type":"nominal","scale":{"domain":["fit","upper","lower"],"range":[[1,0],[5,3],[5,3]]},"legend":null},
      "strokeWidth":{"field":"k","type":"ordinal","scale":{"domain":["fit","upper","lower"],"range":[2.5,1.2,1.2]},"legend":null}
     }},
    {"data":{"name":"cPoints"},"transform":[{"filter":"datum.p == 'C4'"}],"mark":{"type":"circle","color":"#f03a24","size":50,"opacity":1},
     "encoding":{"x":{"field":"x","type":"quantitative","scale":{"domain":[1.76,4.04],"nice":false,"zero":false}},
      "y":{"field":"y","type":"quantitative","scale":{"domain":[0,20],"nice":false}}}},
    {"data":{"values":[{}]},"mark":{"type":"text","text":["rho=0.798","p=0.009"],"align":"left","baseline":"top","fontSize":18,"lineHeight":22},
     "encoding":{"x":{"datum":1.96,"type":"quantitative","scale":{"domain":[1.76,4.04],"nice":false,"zero":false}},
      "y":{"datum":20,"type":"quantitative","scale":{"domain":[0,20],"nice":false}}}}
   ]}
]
}
